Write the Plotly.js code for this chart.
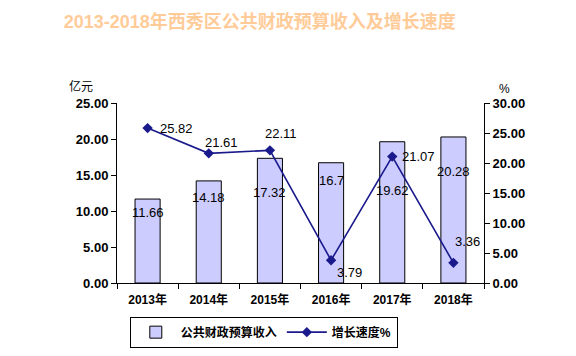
<!DOCTYPE html>
<html><head><meta charset="utf-8">
<script src="https://cdn.plot.ly/plotly-3.0.1.min.js"></script>
<style>body{margin:0;background:#fff}#c{width:576px;height:356px}</style>
</head><body><div id="c"></div>
<script>
const years = ['2013年','2014年','2015年','2016年','2017年','2018年'];
const revenue = [11.66, 14.18, 17.32, 16.7, 19.62, 20.28];
const revenueLabels = ['11.66','14.18','17.32','16.7','19.62','20.28'];
const growth = [25.82, 21.61, 22.11, 3.79, 21.07, 3.36];
const growthLabels = ['25.82','21.61','22.11','3.79','21.07','3.36'];

// label placement offsets (style only)
const barLabelShift = [-13,-17,-34,-18,-49,-35];
const lineLabelShift = [[29,0],[13,11],[11,17],[18,-12],[26,0],[14,21]];

const F = '"Liberation Sans", Arial, "Noto Sans CJK SC", sans-serif';
const annotations = [];
years.forEach((y,i)=>{
  annotations.push({x:y, y:revenue[i], xref:'x', yref:'y', text:revenueLabels[i], showarrow:false,
    yshift:barLabelShift[i], font:{family:F,size:13,color:'#000'}});
  annotations.push({x:y, y:growth[i], xref:'x', yref:'y2', text:growthLabels[i], showarrow:false,
    xshift:lineLabelShift[i][0], yshift:lineLabelShift[i][1], font:{family:F,size:13,color:'#000'}});
});
annotations.push({xref:'paper', yref:'paper', x:-0.135, y:1.04, xanchor:'left', yanchor:'bottom', text:'亿元', showarrow:false, font:{family:F,size:12,color:'#000'}});
annotations.push({xref:'paper', yref:'paper', x:1.035, y:1.03, xanchor:'left', yanchor:'bottom', text:'%', showarrow:false, font:{family:F,size:12,color:'#000'}});

const data = [
  {type:'bar', x:years, y:revenue, name:'公共财政预算收入', width:0.41,
   marker:{color:'#CCCCFF', line:{color:'#000', width:1}}, hoverinfo:'none'},
  {type:'scatter', mode:'lines+markers', x:years, y:growth, yaxis:'y2', name:'增长速度%',
   line:{color:'#1a1a8c', width:1.6}, marker:{symbol:'diamond', size:8, color:'#1a1a8c'}, hoverinfo:'none'}
];
const layout = {
  width:576, height:356,
  margin:{l:117, r:92, t:103, b:73},
  paper_bgcolor:'#fff', plot_bgcolor:'#fff',
  title:{text:'<b>2013-2018年西秀区公共财政预算收入及增长速度</b>', x:0.451, xanchor:'center', y:0.938, yanchor:'middle',
    font:{family:F, size:18, color:'#FFCC99'}},
  showlegend:true,
  legend:{orientation:'h', xref:'container', yref:'container', x:0.458, y:0.067, xanchor:'center', yanchor:'middle', bordercolor:'#000', borderwidth:1,
    font:{family:F, size:12, color:'#000', weight:'bold'}, bgcolor:'#fff', itemwidth:40},
  xaxis:{type:'category', showline:true, linecolor:'#000', linewidth:1, ticks:'outside', tickson:'boundaries', ticklen:5, tickcolor:'#000',
    showgrid:false, ticklabelstandoff:6, tickfont:{family:F, size:12, color:'#000', weight:'bold'}, fixedrange:true, automargin:false},
  yaxis:{range:[0,25], dtick:5, tickformat:'.2f', showline:true, linecolor:'#000', linewidth:1, ticks:'outside', ticklen:5, tickcolor:'#000',
    showgrid:false, zeroline:false, automargin:false, tickfont:{family:F, size:13, color:'#000', weight:'bold'}},
  yaxis2:{range:[0,30], dtick:5, tickformat:'.2f', overlaying:'y', side:'right', showline:true, linecolor:'#000', linewidth:1, ticks:'outside', ticklen:5, tickcolor:'#000',
    showgrid:false, zeroline:false, automargin:false, tickfont:{family:F, size:13, color:'#000', weight:'bold'}},
  annotations:annotations
};
Plotly.newPlot('c', data, layout, {staticPlot:true});
</script></body></html>
